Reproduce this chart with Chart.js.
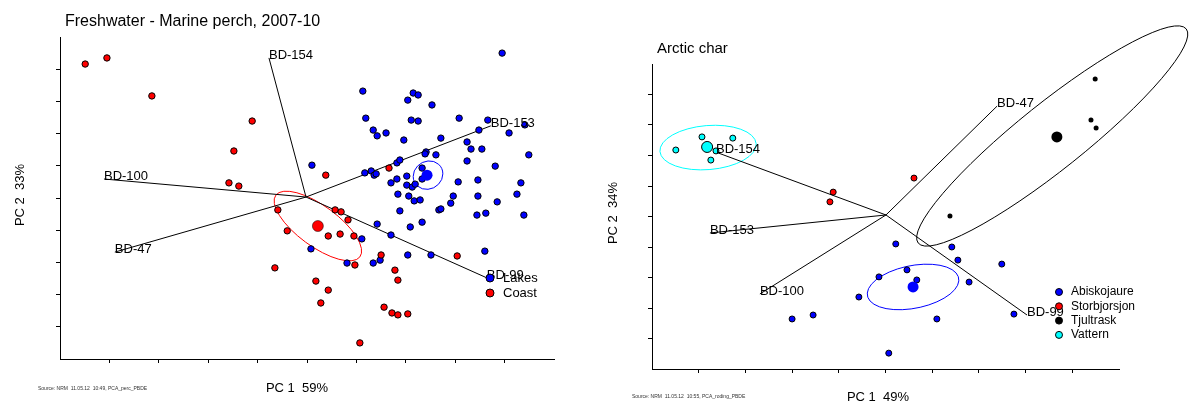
<!DOCTYPE html>
<html>
<head>
<meta charset="utf-8">
<script src="https://cdn.jsdelivr.net/npm/chart.js@4.4.1/dist/chart.umd.min.js"></script>
<style>
  body { margin: 0; background: #fff; }
  .wrap { position: absolute; top: 0; width: 595px; height: 401px; }
  #perchWrap { left: 0; }
  #charWrap { left: 595px; }
</style>
</head>
<body>
<div class="wrap" id="perchWrap"><canvas id="perchChart" width="595" height="401"></canvas></div>
<div class="wrap" id="charWrap"><canvas id="charChart" width="595" height="401"></canvas></div>
<script>
// PC1 / PC2 scores (axis units 0..10, unlabeled ticks)

// ---- Freshwater - Marine perch ----
const perchGroups = ['Lakes', 'Coast'];
const perchLakes = [
  [8.95, 9.50], [6.13, 8.32], [7.15, 8.26], [7.25, 8.20], [7.04, 8.04], [7.53, 7.89],
  [6.19, 7.48], [7.11, 7.42], [7.25, 7.39], [8.08, 7.48], [8.66, 7.42], [9.41, 7.27],
  [6.34, 7.11], [6.42, 6.93], [6.60, 7.02], [6.96, 6.80], [7.71, 6.86], [8.48, 7.11],
  [9.09, 7.02], [8.24, 6.74], [8.32, 6.52], [8.54, 6.52], [7.41, 6.43], [7.39, 6.37],
  [7.61, 6.34], [9.49, 6.34], [8.24, 6.15], [8.81, 5.99], [5.10, 6.02], [6.17, 5.78],
  [6.30, 5.84], [6.36, 5.71], [6.40, 5.75], [6.82, 6.09], [6.88, 6.18], [7.33, 5.93],
  [7.33, 5.59], [7.02, 5.68], [6.82, 5.59], [6.70, 5.47], [7.02, 5.40], [7.13, 5.34],
  [7.19, 5.43], [8.06, 5.50], [8.46, 5.56], [9.33, 5.47], [6.84, 5.12], [7.06, 5.06],
  [7.96, 5.06], [8.46, 5.06], [9.25, 5.12], [7.17, 4.91], [7.29, 4.94], [7.91, 4.84],
  [8.85, 4.88], [6.88, 4.60], [7.67, 4.63], [7.71, 4.66], [8.44, 4.47], [8.62, 4.53],
  [9.39, 4.47], [7.33, 4.25], [7.09, 4.10], [6.42, 4.19], [6.70, 3.85], [6.11, 3.73],
  [5.08, 3.42], [5.81, 2.98], [6.34, 2.98], [6.48, 3.07], [7.04, 3.23], [7.51, 3.23],
  [8.60, 3.35]
];
const perchCoast = [
  [0.51, 9.16], [0.95, 9.35], [1.86, 8.17], [3.89, 7.39], [3.52, 6.46], [3.42, 5.47],
  [3.62, 5.37], [5.38, 5.71], [6.66, 5.93], [4.41, 4.63], [5.57, 4.63], [5.69, 4.57],
  [5.83, 4.32], [4.60, 3.98], [5.43, 3.82], [5.67, 3.88], [5.95, 3.82], [5.97, 2.92],
  [6.50, 3.23], [4.35, 2.83], [5.18, 2.42], [5.43, 2.14], [5.28, 1.74], [6.56, 1.61],
  [6.72, 1.43], [6.84, 1.37], [7.04, 1.40], [6.78, 2.76], [6.84, 2.45], [6.07, 0.50],
  [8.04, 3.20]
];
const perchMeans = [[7.43, 5.71], [5.22, 4.13]];
const perchLoadNames = ['BD-154', 'BD-153', 'BD-100', 'BD-47', 'BD-99'];
const perchLoadEnds = [[4.23, 9.35], [8.72, 7.24], [0.89, 5.59], [1.11, 3.32], [8.64, 2.52]];
const perchLoadOrigin = [4.98, 5.03];
// group ellipses: centre, end of major semi-axis, end of minor semi-axis
const perchEllCenter = [[7.45, 5.71], [5.22, 4.13]];
const perchEllMajor = [[7.75, 5.75], [6.07, 3.17]];
const perchEllMinor = [[7.45, 6.15], [5.47, 4.63]];

// ---- Arctic char ----
const charGroups = ['Abiskojaure', 'Storbjorsjon', 'Tjultrask', 'Vattern'];
const charAbisko = [
  [5.22, 4.10], [4.86, 3.02], [4.43, 2.36], [3.00, 1.64], [3.45, 1.77], [5.07, 0.52],
  [6.42, 4.00], [6.55, 3.57], [7.49, 3.44], [5.46, 3.25], [5.67, 2.92], [6.79, 2.85],
  [6.10, 1.64], [7.75, 1.80]
];
const charStorb = [[3.88, 5.80], [3.81, 5.48], [5.61, 6.26]];
const charTjult = [[9.49, 9.51], [9.40, 8.16], [9.51, 7.90], [6.38, 5.02]];
const charVattern = [[0.51, 7.18], [1.07, 7.61], [1.73, 7.57], [1.37, 7.15], [1.26, 6.85]];
const charMeans = [[5.59, 2.69], null, [8.67, 7.61], [1.18, 7.28]];
const charLoadNames = ['BD-47', 'BD-154', 'BD-153', 'BD-100', 'BD-99'];
const charLoadEnds = [[7.39, 8.62], [1.37, 7.11], [1.24, 4.46], [2.31, 2.46], [8.03, 1.77]];
const charLoadOrigin = [5.01, 5.05];
const charEllCenter = [[5.59, 2.69], [8.57, 7.64], [1.20, 7.26]];
const charEllMajor = [[6.57, 2.89], [5.70, 4.13], [2.23, 7.39]];
const charEllMinor = [[5.63, 3.41], [9.01, 6.79], [1.16, 7.98]];

const FONT = '"Liberation Sans", Arial, Helvetica, sans-serif';
const BLUE = '#0000ff', RED = '#ff0000', BLACK = '#000000', CYAN = '#00ffff';

const toXY = arr => arr.map(p => ({ x: p[0], y: p[1] }));

function pointSet(data, color, r, bw, order) {
  return {
    data: toXY(data),
    backgroundColor: color,
    borderColor: '#000',
    borderWidth: bw,
    pointRadius: r,
    pointHoverRadius: r,
    order: order,
    clip: false
  };
}

function loadingSets(origin, ends) {
  return ends.map(e => ({
    data: toXY([origin, e]),
    showLine: true,
    borderColor: '#000',
    borderWidth: 1,
    pointRadius: 0,
    fill: false,
    order: 10
  }));
}

function axis() {
  return {
    type: 'linear',
    min: 0,
    max: 10,
    ticks: { display: false, stepSize: 1 },
    grid: { display: true, drawOnChartArea: false, drawTicks: true, tickLength: 4, color: '#000', lineWidth: 1 },
    border: { display: true, color: '#000', width: 1 },
    afterBuildTicks: s => { s.ticks = s.ticks.filter(t => t.value > 0 && t.value < 10); },
    afterFit: s => { if (s.isHorizontal()) s.height = 0; else s.width = 0; }
  };
}

function txt(ctx, str, x, y, size, align, color) {
  ctx.font = size + 'px ' + FONT;
  ctx.fillStyle = color || '#000';
  ctx.textAlign = align || 'left';
  ctx.textBaseline = 'middle';
  ctx.fillText(str, x, y);
}

// ellipses (under the points) and all the text (on top)
function decor(o) {
  return {
    id: 'decor',
    beforeDatasetsDraw(chart) {
      const ctx = chart.ctx, xs = chart.scales.x, ys = chart.scales.y;
      o.ellCenter.forEach((c, i) => {
        const cx = xs.getPixelForValue(c[0]), cy = ys.getPixelForValue(c[1]);
        const ax = xs.getPixelForValue(o.ellMajor[i][0]) - cx, ay = ys.getPixelForValue(o.ellMajor[i][1]) - cy;
        const bx = xs.getPixelForValue(o.ellMinor[i][0]) - cx, by = ys.getPixelForValue(o.ellMinor[i][1]) - cy;
        ctx.save();
        ctx.beginPath();
        ctx.transform(ax, ay, bx, by, cx, cy);
        ctx.arc(0, 0, 1, 0, Math.PI * 2);
        ctx.setTransform(1, 0, 0, 1, 0, 0);
        ctx.strokeStyle = o.ellColors[i];
        ctx.lineWidth = 1;
        ctx.stroke();
        ctx.restore();
      });
    },
    afterDraw(chart) {
      const ctx = chart.ctx, xs = chart.scales.x, ys = chart.scales.y;
      ctx.save();
      txt(ctx, o.title, o.titleX, o.titleY, o.titleSize);
      txt(ctx, o.xTitle, o.xTitleX, o.xTitleY, 13, 'center');
      ctx.save();
      ctx.translate(o.yTitleX, o.yTitleY);
      ctx.rotate(-Math.PI / 2);
      txt(ctx, o.yTitle, 0, 0, 13, 'center');
      ctx.restore();
      txt(ctx, o.source, o.sourceX, o.sourceY, 5, 'left', '#333');
      o.loadNames.forEach((n, i) => {
        const px = xs.getPixelForValue(o.loadEnds[i][0]);
        const py = ys.getPixelForValue(o.loadEnds[i][1]);
        ctx.font = '13px ' + FONT;
        ctx.fillStyle = '#000';
        ctx.textAlign = 'left';
        ctx.textBaseline = 'alphabetic';
        ctx.fillText(n, px, py + 1);
      });
      o.legNames.forEach((n, i) => {
        const y = o.legY + i * o.legStep;
        ctx.beginPath();
        ctx.arc(o.legX, y, o.legR, 0, Math.PI * 2);
        ctx.fillStyle = o.legColors[i];
        ctx.fill();
        ctx.strokeStyle = '#000';
        ctx.lineWidth = 1;
        ctx.stroke();
        txt(ctx, n, o.legTextX, y, o.legSize);
      });
      ctx.restore();
    }
  };
}

Chart.defaults.font.family = FONT;

new Chart(document.getElementById('perchChart'), {
  type: 'scatter',
  data: {
    datasets: [
      pointSet(perchMeans.slice(1), RED, 5.5, 0.5, 0),
      pointSet(perchMeans.slice(0, 1), BLUE, 5.5, 0, 0),
      pointSet(perchCoast, RED, 3.2, 1, 1),
      pointSet(perchLakes, BLUE, 3.2, 1, 2),
      ...loadingSets(perchLoadOrigin, perchLoadEnds)
    ]
  },
  options: {
    responsive: false,
    animation: false,
    events: [],
    layout: { autoPadding: false, padding: { left: 60, right: 41, top: 37, bottom: 42 } },
    scales: { x: axis(), y: axis() },
    plugins: { legend: { display: false }, tooltip: { enabled: false } }
  },
  plugins: [decor({
    title: 'Freshwater - Marine perch, 2007-10', titleX: 65, titleY: 22, titleSize: 16,
    xTitle: 'PC 1  59%', xTitleX: 297, xTitleY: 388,
    yTitle: 'PC 2  33%', yTitleX: 20, yTitleY: 195,
    source: 'Source: NRM  11.05.12  10:49, PCA_perc_PBDE', sourceX: 38, sourceY: 389,
    loadNames: perchLoadNames, loadEnds: perchLoadEnds,
    ellCenter: perchEllCenter, ellMajor: perchEllMajor, ellMinor: perchEllMinor, ellColors: [BLUE, RED],
    legNames: perchGroups, legColors: [BLUE, RED],
    legX: 490, legY: 278, legStep: 15, legR: 4, legTextX: 503, legSize: 13
  })]
});

new Chart(document.getElementById('charChart'), {
  type: 'scatter',
  data: {
    datasets: [
      pointSet([charMeans[0]], BLUE, 5.5, 0, 0),
      pointSet([charMeans[2]], BLACK, 5.5, 0, 0),
      pointSet([charMeans[3]], CYAN, 5.5, 1, 0),
      pointSet(charStorb, RED, 3, 1, 1),
      pointSet(charTjult, BLACK, 2.5, 0, 1),
      pointSet(charVattern, CYAN, 3, 1, 1),
      pointSet(charAbisko, BLUE, 3, 1, 1),
      ...loadingSets(charLoadOrigin, charLoadEnds)
    ]
  },
  options: {
    responsive: false,
    animation: false,
    events: [],
    layout: { autoPadding: false, padding: { left: 57, right: 71, top: 64, bottom: 32 } },
    scales: { x: axis(), y: axis() },
    plugins: { legend: { display: false }, tooltip: { enabled: false } }
  },
  plugins: [decor({
    title: 'Arctic char', titleX: 62, titleY: 49, titleSize: 15,
    xTitle: 'PC 1  49%', xTitleX: 283, xTitleY: 397,
    yTitle: 'PC 2  34%', yTitleX: 18, yTitleY: 213,
    source: 'Source: NRM  11.05.12  10:55, PCA_roding_PBDE', sourceX: 37, sourceY: 397,
    loadNames: charLoadNames, loadEnds: charLoadEnds,
    ellCenter: charEllCenter, ellMajor: charEllMajor, ellMinor: charEllMinor, ellColors: [BLUE, BLACK, CYAN],
    legNames: charGroups, legColors: [BLUE, RED, BLACK, CYAN],
    legX: 464, legY: 292, legStep: 14.3, legR: 3.5, legTextX: 476, legSize: 12
  })]
});
</script>
</body>
</html>
